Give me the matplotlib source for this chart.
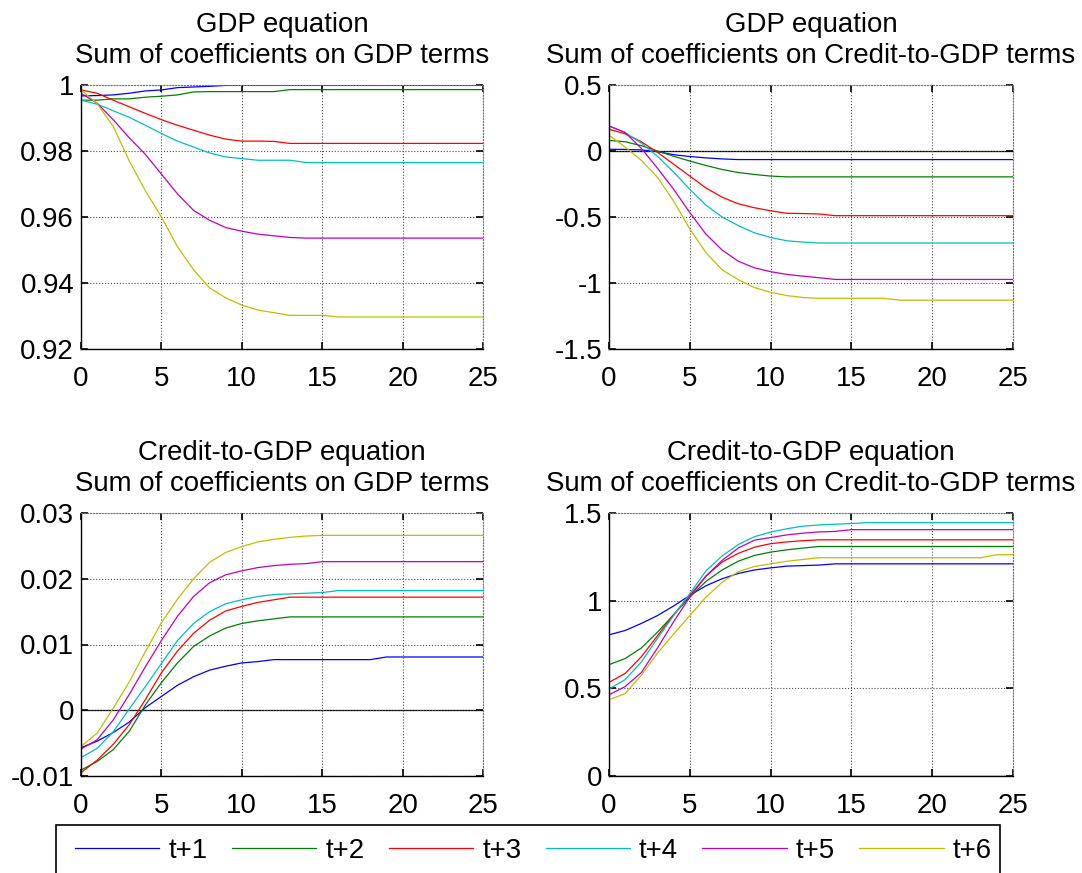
import matplotlib
matplotlib.use('Agg')
import matplotlib.pyplot as plt
from matplotlib.patches import Rectangle
from matplotlib.ticker import FormatStrFormatter

plt.rcParams['font.family'] = ['Liberation Sans', 'DejaVu Sans']

horizon = list(range(26))
labels = ['t+1', 't+2', 't+3', 't+4', 't+5', 't+6']
colors = ['#0000ff', '#008000', '#ff0000', '#00bfbf', '#bf00bf', '#bfbf00']

# GDP equation, sum of coefficients on GDP terms
gdp_gdp = [
    [0.9967, 0.9968, 0.9970, 0.9975, 0.9982, 0.9985, 0.9992, 0.9994, 0.9996, 0.9999, 0.9999, 0.9999, 0.9999,
     0.9999, 0.9999, 0.9999, 0.9999, 0.9999, 0.9999, 0.9999, 0.9999, 0.9999, 0.9999, 0.9999, 0.9999, 0.9999],
    [0.9954, 0.9954, 0.9958, 0.9958, 0.9963, 0.9966, 0.9970, 0.9979, 0.9980, 0.9980, 0.9980, 0.9980, 0.9980,
     0.9986, 0.9986, 0.9986, 0.9986, 0.9986, 0.9986, 0.9986, 0.9986, 0.9986, 0.9986, 0.9986, 0.9986, 0.9986],
    [0.9985, 0.9975, 0.9954, 0.9934, 0.9914, 0.9895, 0.9878, 0.9863, 0.9848, 0.9836, 0.9830, 0.9830, 0.9829,
     0.9823, 0.9823, 0.9823, 0.9823, 0.9823, 0.9823, 0.9823, 0.9823, 0.9823, 0.9823, 0.9823, 0.9823, 0.9823],
    [0.9954, 0.9942, 0.9922, 0.9902, 0.9878, 0.9853, 0.9830, 0.9812, 0.9794, 0.9782, 0.9777, 0.9772, 0.9772,
     0.9772, 0.9765, 0.9765, 0.9765, 0.9765, 0.9765, 0.9765, 0.9765, 0.9765, 0.9765, 0.9765, 0.9765, 0.9765],
    [0.9975, 0.9945, 0.9895, 0.9840, 0.9790, 0.9730, 0.9670, 0.9620, 0.9590, 0.9568, 0.9557, 0.9548, 0.9543,
     0.9538, 0.9536, 0.9536, 0.9536, 0.9536, 0.9536, 0.9536, 0.9536, 0.9536, 0.9536, 0.9536, 0.9536, 0.9536],
    [0.9985, 0.9944, 0.9875, 0.9770, 0.9680, 0.9600, 0.9510, 0.9440, 0.9385, 0.9355, 0.9333, 0.9318, 0.9310,
     0.9302, 0.9302, 0.9302, 0.9297, 0.9297, 0.9297, 0.9297, 0.9297, 0.9297, 0.9297, 0.9297, 0.9297, 0.9297],
]

# GDP equation, sum of coefficients on credit-to-GDP terms
gdp_credit = [
    [0.013, 0.012, 0.008, -0.005, -0.028, -0.042, -0.052, -0.060, -0.065, -0.065, -0.065, -0.065, -0.065,
     -0.065, -0.065, -0.065, -0.065, -0.065, -0.065, -0.065, -0.065, -0.065, -0.065, -0.065, -0.065, -0.065],
    [0.08, 0.07, 0.04, 0.0, -0.04, -0.076, -0.11, -0.14, -0.163, -0.178, -0.19, -0.196, -0.196,
     -0.196, -0.196, -0.196, -0.196, -0.196, -0.196, -0.196, -0.196, -0.196, -0.196, -0.196, -0.196, -0.196],
    [0.165, 0.13, 0.07, -0.01, -0.10, -0.19, -0.28, -0.35, -0.40, -0.43, -0.453, -0.472, -0.474,
     -0.477, -0.49, -0.49, -0.49, -0.49, -0.49, -0.49, -0.49, -0.49, -0.49, -0.49, -0.49, -0.49],
    [0.19, 0.14, 0.06, -0.04, -0.16, -0.29, -0.41, -0.50, -0.565, -0.62, -0.655, -0.68, -0.69,
     -0.697, -0.697, -0.697, -0.697, -0.697, -0.697, -0.697, -0.697, -0.697, -0.697, -0.697, -0.697, -0.697],
    [0.19, 0.14, 0.02, -0.13, -0.29, -0.466, -0.63, -0.75, -0.835, -0.885, -0.914, -0.935, -0.948,
     -0.96, -0.973, -0.973, -0.973, -0.973, -0.973, -0.973, -0.973, -0.973, -0.973, -0.973, -0.973, -0.973],
    [0.12, 0.03, -0.07, -0.2, -0.38, -0.59, -0.77, -0.90, -0.975, -1.035, -1.07, -1.095, -1.11,
     -1.116, -1.116, -1.116, -1.116, -1.116, -1.13, -1.13, -1.13, -1.13, -1.13, -1.13, -1.13, -1.13],
]

# Credit-to-GDP equation, sum of coefficients on GDP terms
credit_gdp = [
    [-0.0057, -0.0047, -0.0034, -0.0018, 0.0004, 0.0021, 0.0038, 0.0051, 0.0061, 0.0067, 0.0072, 0.0074, 0.0077,
     0.0077, 0.0077, 0.0077, 0.0077, 0.0077, 0.0077, 0.0081, 0.0081, 0.0081, 0.0081, 0.0081, 0.0081, 0.0081],
    [-0.0091, -0.0078, -0.0060, -0.0032, 0.0008, 0.0042, 0.0072, 0.0097, 0.0113, 0.0125, 0.0132, 0.0136, 0.0139,
     0.0142, 0.0142, 0.0142, 0.0142, 0.0142, 0.0142, 0.0142, 0.0142, 0.0142, 0.0142, 0.0142, 0.0142, 0.0142],
    [-0.0095, -0.0076, -0.0052, -0.0022, 0.0016, 0.0057, 0.0090, 0.0117, 0.0137, 0.0151, 0.0158, 0.0164, 0.0168,
     0.0172, 0.0172, 0.0172, 0.0172, 0.0172, 0.0172, 0.0172, 0.0172, 0.0172, 0.0172, 0.0172, 0.0172, 0.0172],
    [-0.0072, -0.0058, -0.0033, 0.0002, 0.0036, 0.0071, 0.0106, 0.0132, 0.0150, 0.0162, 0.0168, 0.0173, 0.0176,
     0.0177, 0.0178, 0.0179, 0.0182, 0.0182, 0.0182, 0.0182, 0.0182, 0.0182, 0.0182, 0.0182, 0.0182, 0.0182],
    [-0.0059, -0.0045, -0.0015, 0.0024, 0.0066, 0.0106, 0.0143, 0.0173, 0.0194, 0.0206, 0.0212, 0.0217, 0.0220,
     0.0222, 0.0223, 0.0226, 0.0226, 0.0226, 0.0226, 0.0226, 0.0226, 0.0226, 0.0226, 0.0226, 0.0226, 0.0226],
    [-0.0055, -0.0035, 0.0003, 0.0043, 0.0089, 0.0133, 0.0169, 0.0200, 0.0225, 0.0240, 0.0249, 0.0256, 0.0260,
     0.0263, 0.0265, 0.0266, 0.0266, 0.0266, 0.0266, 0.0266, 0.0266, 0.0266, 0.0266, 0.0266, 0.0266, 0.0266],
]

# Credit-to-GDP equation, sum of coefficients on credit-to-GDP terms
credit_credit = [
    [0.805, 0.83, 0.87, 0.915, 0.97, 1.03, 1.085, 1.125, 1.155, 1.175, 1.187, 1.197, 1.200,
     1.203, 1.21, 1.21, 1.21, 1.21, 1.21, 1.21, 1.21, 1.21, 1.21, 1.21, 1.21, 1.21],
    [0.635, 0.67, 0.73, 0.82, 0.92, 1.02, 1.11, 1.175, 1.225, 1.258, 1.277, 1.29, 1.30,
     1.309, 1.309, 1.309, 1.309, 1.309, 1.309, 1.309, 1.309, 1.309, 1.309, 1.309, 1.309, 1.309],
    [0.534, 0.585, 0.68, 0.80, 0.92, 1.03, 1.14, 1.22, 1.27, 1.305, 1.325, 1.335, 1.342,
     1.347, 1.347, 1.347, 1.347, 1.347, 1.347, 1.347, 1.347, 1.347, 1.347, 1.347, 1.347, 1.347],
    [0.496, 0.55, 0.65, 0.785, 0.915, 1.04, 1.17, 1.255, 1.32, 1.365, 1.391, 1.41, 1.425,
     1.432, 1.436, 1.44, 1.445, 1.445, 1.445, 1.445, 1.445, 1.445, 1.445, 1.445, 1.445, 1.445],
    [0.463, 0.51, 0.59, 0.73, 0.88, 1.02, 1.14, 1.23, 1.30, 1.345, 1.36, 1.375, 1.385,
     1.392, 1.395, 1.405, 1.405, 1.405, 1.405, 1.405, 1.405, 1.405, 1.405, 1.405, 1.405, 1.405],
    [0.435, 0.47, 0.575, 0.70, 0.81, 0.915, 1.02, 1.105, 1.165, 1.195, 1.21, 1.225, 1.235,
     1.245, 1.245, 1.245, 1.245, 1.245, 1.245, 1.245, 1.245, 1.245, 1.245, 1.245, 1.262, 1.262],
]

titles = [
    'GDP equation\nSum of coefficients on GDP terms',
    'GDP equation\nSum of coefficients on Credit-to-GDP terms',
    'Credit-to-GDP equation\nSum of coefficients on GDP terms',
    'Credit-to-GDP equation\nSum of coefficients on Credit-to-GDP terms',
]
ylims = [(0.92, 1.0), (-1.5, 0.5), (-0.01, 0.03), (0.0, 1.5)]
yticks = [
    [0.92, 0.94, 0.96, 0.98, 1.0],
    [-1.5, -1.0, -0.5, 0.0, 0.5],
    [-0.01, 0.0, 0.01, 0.02, 0.03],
    [0.0, 0.5, 1.0, 1.5],
]
xticks = [0, 5, 10, 15, 20, 25]

W, H = 1082, 873
fs = 19.9
fig = plt.figure(figsize=(W / 100, H / 100), dpi=100)

# axes boxes in pixels: left, top, right, bottom
boxes = [(81, 85, 483, 349), (609, 85, 1013, 349),
         (81, 513, 483, 776), (609, 513, 1013, 776)]

panels = [gdp_gdp, gdp_credit, credit_gdp, credit_credit]
handles = []
for i, series in enumerate(panels):
    l, t, r, b = boxes[i]
    ax = fig.add_axes([l / W, 1 - b / H, (r - l) / W, (b - t) / H])
    ax.axhline(0, color='k', lw=0.9, zorder=1)
    for vals, c, lab in zip(series, colors, labels):
        line, = ax.plot(horizon, vals, color=c, lw=0.9, label=lab, zorder=2)
        if i == 0:
            handles.append(line)
    ax.set_xlim(0, 25)
    ax.set_ylim(*ylims[i])
    ax.set_xticks(xticks)
    ax.set_yticks(yticks[i])
    ax.xaxis.set_major_formatter(FormatStrFormatter('%g'))
    ax.yaxis.set_major_formatter(FormatStrFormatter('%g'))
    ax.grid(True, linestyle=':', color='0.3', lw=0.8)
    ax.tick_params(direction='in', length=5, width=1.2, top=True, right=True,
                   labelsize=fs)
    ax.tick_params(axis='x', pad=12)
    ax.tick_params(axis='y', pad=5)
    for s in ['left', 'bottom']:
        ax.spines[s].set_color('k')
        ax.spines[s].set_linewidth(1.0)
    for s in ['top', 'right']:
        ax.spines[s].set_color('0.45')
        ax.spines[s].set_linestyle(':')
        ax.spines[s].set_linewidth(0.8)
    ax.set_title(titles[i], fontsize=fs, pad=16, linespacing=1.25)

fig.legend(handles, labels, ncol=6, loc='center left',
           bbox_to_anchor=(75 / W, 1 - 851 / H), frameon=False, fontsize=fs,
           handlelength=3.05, handletextpad=0.33, columnspacing=0.88,
           borderpad=0, borderaxespad=0)
fig.add_artist(Rectangle((56 / W, -0.1), (1000 - 56) / W, 0.1 + (873 - 825) / H,
                         transform=fig.transFigure, fill=False, edgecolor='k', lw=1.2))

fig.savefig('out.png', dpi=100)
